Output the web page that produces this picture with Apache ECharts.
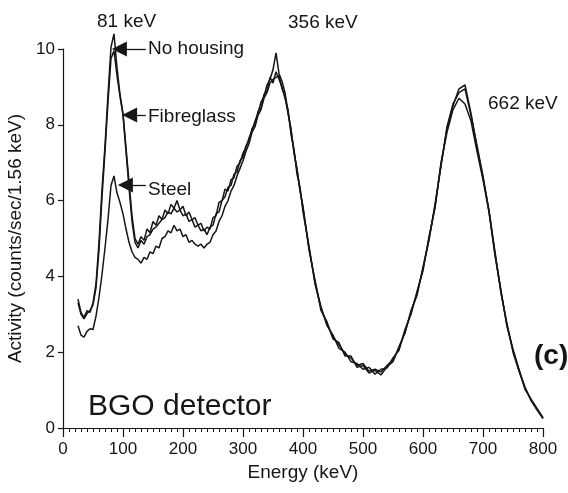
<!DOCTYPE html>
<html>
<head>
<meta charset="utf-8">
<script src="https://cdn.jsdelivr.net/npm/echarts@6.0.0/dist/echarts.min.js"></script>
<style>
  html, body { margin: 0; padding: 0; background: #fff; }
  #chart { width: 568px; height: 493px; }
</style>
</head>
<body>
<div id="chart"></div>
<script>
// energy grid (keV)
const energy = [
  25, 30, 35, 40, 45, 50, 55, 60, 65, 70,
  75, 80, 85, 90, 95, 100, 105, 110, 115, 120,
  125, 130, 135, 140, 145, 150, 155, 160, 165, 170,
  175, 180, 185, 190, 195, 200, 205, 210, 215, 220,
  225, 230, 235, 240, 245, 250, 255, 260, 265, 270,
  275, 280, 285, 290, 295, 300, 305, 310, 315, 320,
  325, 330, 335, 340, 345, 350, 355, 360, 365, 370,
  375, 380, 385, 390, 395, 400, 410, 420, 430, 440,
  450, 460, 470, 480, 490, 500, 510, 520, 530, 540,
  550, 560, 570, 580, 590, 600, 610, 620, 630, 640,
  650, 660, 670, 680, 690, 700, 710, 720, 730, 740,
  750, 760, 770, 780, 790, 800
];

const noHousing = [
  3.40, 3.05, 2.92, 3.10, 3.05, 3.30, 3.80, 4.90, 6.30, 7.45,
  8.80, 10.05, 10.40, 9.50, 8.80, 8.30, 7.40, 6.50, 5.60, 5.00,
  4.85, 5.05, 4.95, 5.25, 5.15, 5.45, 5.35, 5.60, 5.50, 5.75,
  5.65, 5.90, 5.80, 6.00, 5.75, 5.85, 5.60, 5.70, 5.50, 5.55,
  5.35, 5.40, 5.20, 5.30, 5.25, 5.55, 5.60, 5.95, 6.00, 6.30,
  6.25, 6.55, 6.60, 6.90, 7.00, 7.25, 7.40, 7.65, 7.85, 8.10,
  8.30, 8.60, 8.75, 9.05, 9.20, 9.45, 9.90, 9.35, 9.15, 8.85,
  8.35, 7.85, 7.30, 6.80, 6.30, 5.80, 4.75, 3.85, 3.15, 2.75,
  2.40, 2.20, 1.95, 1.85, 1.65, 1.70, 1.50, 1.55, 1.48, 1.65,
  1.80, 2.10, 2.55, 3.05, 3.55, 4.20, 5.00, 5.85, 6.95, 7.90,
  8.50, 8.95, 9.05, 8.30, 7.40, 6.60, 5.75, 4.60, 3.60, 2.70,
  2.05, 1.55, 1.05, 0.75, 0.50, 0.26
];

const fibreglass = [
  3.30, 3.00, 2.88, 3.02, 3.10, 3.25, 3.70, 4.70, 6.10, 7.30,
  8.60, 9.75, 9.95, 9.30, 8.75, 8.25, 7.30, 6.35, 5.45, 4.90,
  4.75, 4.95, 4.85, 5.05, 5.10, 5.25, 5.30, 5.40, 5.50, 5.55,
  5.70, 5.65, 5.80, 5.70, 5.75, 5.60, 5.65, 5.45, 5.50, 5.30,
  5.35, 5.20, 5.25, 5.10, 5.30, 5.35, 5.65, 5.70, 6.00, 6.10,
  6.35, 6.40, 6.70, 6.75, 7.05, 7.15, 7.45, 7.55, 7.90, 8.00,
  8.35, 8.45, 8.80, 8.90, 9.25, 9.10, 9.40, 9.20, 9.00, 8.70,
  8.40, 7.75, 7.35, 6.70, 6.35, 5.70, 4.80, 3.80, 3.20, 2.70,
  2.45, 2.10, 2.00, 1.75, 1.70, 1.55, 1.60, 1.42, 1.55, 1.58,
  1.85, 2.05, 2.60, 3.00, 3.60, 4.15, 5.05, 5.80, 7.00, 7.80,
  8.40, 8.70, 8.55, 8.10, 7.30, 6.55, 5.70, 4.65, 3.55, 2.75,
  2.00, 1.50, 1.08, 0.72, 0.48, 0.25
];

const steel = [
  2.70, 2.45, 2.40, 2.55, 2.62, 2.60, 2.95, 3.45, 4.05, 4.75,
  5.50, 6.40, 6.65, 6.20, 5.95, 5.65, 5.25, 4.90, 4.65, 4.50,
  4.45, 4.35, 4.50, 4.45, 4.65, 4.60, 4.80, 4.75, 5.00, 5.05,
  5.20, 5.15, 5.35, 5.20, 5.25, 5.05, 5.10, 4.90, 4.95, 4.85,
  4.80, 4.85, 4.75, 4.85, 4.90, 5.10, 5.20, 5.45, 5.60, 5.85,
  6.00, 6.25, 6.40, 6.65, 6.85, 7.05, 7.30, 7.50, 7.80, 7.95,
  8.25, 8.40, 8.70, 8.85, 9.10, 9.20, 9.25, 9.30, 8.95, 8.75,
  8.30, 7.90, 7.25, 6.85, 6.25, 5.85, 4.70, 3.90, 3.10, 2.80,
  2.35, 2.25, 1.90, 1.90, 1.60, 1.65, 1.45, 1.52, 1.40, 1.62,
  1.75, 2.15, 2.50, 3.10, 3.50, 4.25, 4.95, 5.90, 6.90, 7.95,
  8.55, 8.85, 8.95, 8.25, 7.45, 6.65, 5.70, 4.55, 3.62, 2.68,
  2.08, 1.52, 1.02, 0.76, 0.52, 0.27
];

// arrows: [label start energy, arrow end energy, activity]
const arrows = [
  [138, 94, 10.0],
  [138, 111, 8.26],
  [138, 104, 6.41]
];

const ink = '#161616';
const font = 'Liberation Sans, Arial, Helvetica, sans-serif';

const chart = echarts.init(document.getElementById('chart'), null, { renderer: 'canvas' });

const pairs = (vals) => energy.map((e, i) => [e, vals[i]]);

const lineSeries = (name, vals) => ({
  name,
  type: 'line',
  data: pairs(vals),
  showSymbol: false,
  clip: false,
  lineStyle: { color: ink, width: 1.5 },
  silent: true,
});

const text = (str, x, y, size, weight) => ({
  type: 'text',
  x,
  y,
  style: {
    text: str,
    fill: ink,
    font: `${weight || 'normal'} ${size}px ${font}`,
    verticalAlign: 'middle',
  },
});

const option = {
  animation: false,
  backgroundColor: '#fff',
  grid: { left: 63, right: 25, top: 49, bottom: 65, outerBoundsMode: 'none' },
  xAxis: {
    type: 'value',
    min: 0,
    max: 800,
    interval: 100,
    name: 'Energy (keV)',
    nameLocation: 'middle',
    nameGap: 33,
    nameTextStyle: { color: ink, fontSize: 19, fontFamily: font },
    axisLine: { lineStyle: { color: ink, width: 1.2 } },
    axisTick: { length: 9, lineStyle: { color: ink, width: 1.2 } },
    minorTick: { show: true, splitNumber: 10, length: 4, lineStyle: { color: ink, width: 1 } },
    axisLabel: { color: ink, fontSize: 17, fontFamily: font, margin: 13 },
    splitLine: { show: false },
  },
  yAxis: {
    type: 'value',
    min: 0,
    max: 10,
    interval: 2,
    name: 'Activity (counts/sec/1.56 keV)',
    nameLocation: 'middle',
    nameGap: 31,
    nameTextStyle: { color: ink, fontSize: 19, fontFamily: font },
    axisLine: { show: true, lineStyle: { color: ink, width: 1.2 } },
    axisTick: { show: true, length: 5, lineStyle: { color: ink, width: 1.2 } },
    axisLabel: { color: ink, fontSize: 17, fontFamily: font, margin: 8 },
    splitLine: { show: false },
  },
  series: [
    Object.assign(lineSeries('No housing', noHousing), {
      markLine: {
        silent: true,
        symbol: ['none', 'triangle'],
        symbolSize: 15,
        label: { show: false },
        emphasis: { disabled: true },
        lineStyle: { color: ink, width: 1.3, type: 'solid' },
        itemStyle: { color: '#2a2a2a' },
        data: arrows.map(([from, to, a]) => [{ coord: [from, a] }, { coord: [to, a] }]),
      },
    }),
    lineSeries('Fibreglass', fibreglass),
    lineSeries('Steel', steel),
  ],
  graphic: [
    text('81 keV', 97, 22, 19),
    text('356 keV', 288, 23, 19),
    text('662 keV', 488, 104, 19),
    text('No housing', 148, 49, 19),
    text('Fibreglass', 148, 117, 19),
    text('Steel', 148, 190, 19),
    text('(c)', 534, 356, 28, 'bold'),
    text('BGO detector', 88, 407, 30),
  ],
};

chart.setOption(option);
</script>
</body>
</html>
